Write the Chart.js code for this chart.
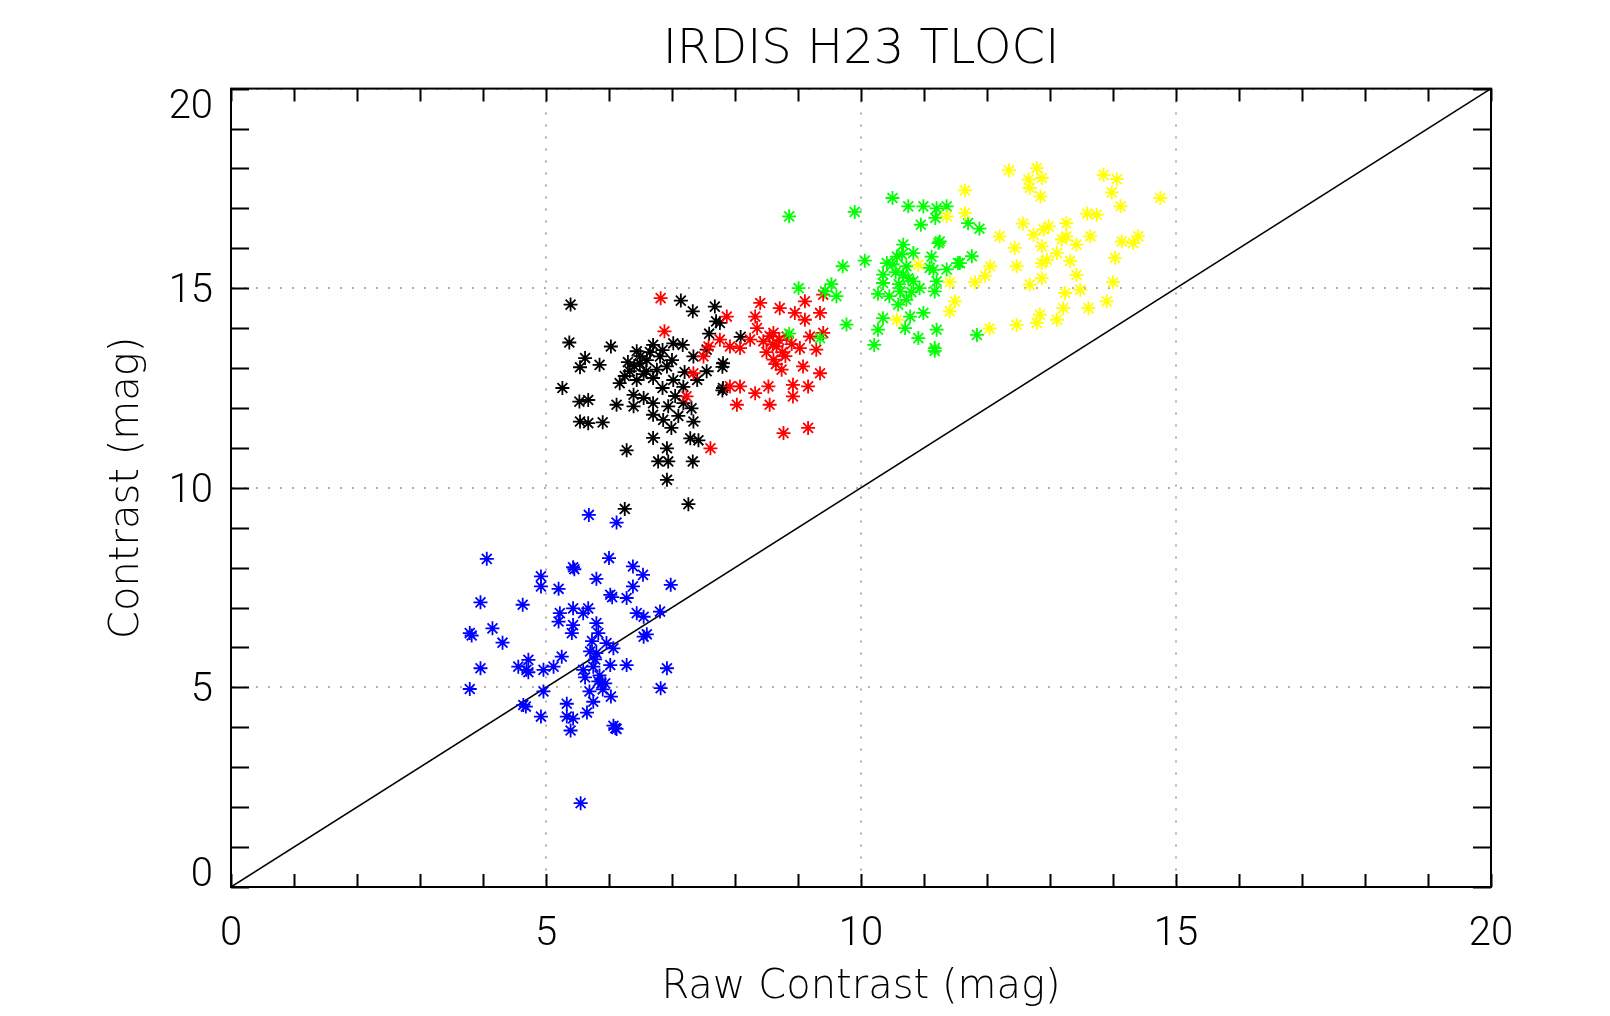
<!DOCTYPE html>
<html>
<head>
<meta charset="utf-8">
<title>IRDIS H23 TLOCI</title>
<script src="https://cdn.jsdelivr.net/npm/chart.js@4.4.1/dist/chart.umd.min.js"></script>
<style>
  html, body { margin: 0; padding: 0; background: #fff; }
  #wrap { width: 1610px; height: 1016px; }
</style>
</head>
<body>
<div id="wrap"><canvas id="chart"></canvas></div>
<script>
// values, one x/y list per colour
const blueX = [5.68, 6.12, 4.06, 5.43, 5.45, 6.00, 6.38, 6.54, 4.92, 4.92, 5.80, 5.20, 6.98, 6.38, 6.02, 6.05, 6.28, 3.96, 4.63, 5.22,
  5.43, 5.67, 5.59, 5.80, 5.43, 5.20, 6.44, 6.55, 6.81, 6.55, 6.60, 3.79, 3.82, 4.15, 4.31, 5.41, 5.83, 5.73, 5.96, 6.07,
  5.25, 5.80, 4.72, 4.56, 4.69, 4.72, 4.96, 5.12, 5.59, 5.75, 6.02, 6.28, 6.92, 3.96, 5.83, 5.88, 5.94, 3.79, 4.96, 5.69,
  6.03, 6.82, 5.75, 4.64, 4.68, 5.33, 5.65, 4.92, 5.33, 5.43, 5.39, 6.07, 6.10, 6.12, 5.55, 5.70, 5.78, 5.85, 5.62, 5.90];
const blueY = [9.32, 9.13, 8.22, 8.01, 7.96, 8.24, 8.03, 7.82, 7.78, 7.53, 7.72, 7.47, 7.57, 7.53, 7.32, 7.26, 7.24, 7.13, 7.07, 6.86,
  6.98, 6.98, 6.86, 6.61, 6.56, 6.65, 6.86, 6.77, 6.90, 6.27, 6.33, 6.36, 6.30, 6.48, 6.12, 6.36, 6.36, 6.16, 6.11, 5.98,
  5.77, 5.86, 5.69, 5.52, 5.44, 5.38, 5.44, 5.52, 5.44, 5.52, 5.56, 5.56, 5.48, 5.48, 5.15, 5.10, 5.10, 4.96, 4.90, 4.90,
  4.77, 4.98, 4.64, 4.56, 4.52, 4.59, 4.37, 4.27, 4.27, 4.22, 3.92, 4.04, 3.98, 3.96, 2.10, 5.90, 5.70, 5.30, 5.25, 4.95];

const blackX = [5.39, 7.14, 7.33, 7.68, 7.76, 7.70, 7.59, 5.37, 6.03, 5.62, 5.85, 5.54, 5.26, 5.53, 5.67, 5.54, 5.67, 5.90, 6.28, 6.92,
  6.70, 7.02, 7.17, 6.44, 6.81, 6.49, 6.33, 6.59, 6.76, 6.92, 7.34, 7.55, 7.81, 7.80, 7.55, 6.17, 6.44, 6.70, 7.02, 7.18,
  7.81, 7.80, 6.39, 6.55, 6.12, 6.39, 6.70, 6.94, 7.18, 7.31, 6.70, 6.86, 7.10, 7.34, 6.99, 6.70, 7.29, 7.42, 6.92, 6.78,
  6.94, 7.33, 6.25, 7.26, 8.09, 6.50, 6.60, 6.40, 6.65, 6.55, 6.30, 6.85, 7.00, 6.25, 6.85, 7.20, 7.40, 7.05];
const blackY = [14.59, 14.69, 14.42, 14.54, 14.13, 14.17, 13.86, 13.64, 13.54, 13.25, 13.08, 13.02, 12.50, 12.16, 12.20, 11.66, 11.62, 11.64, 10.94, 10.20,
  13.58, 13.62, 13.58, 13.42, 13.29, 13.12, 12.92, 12.92, 12.96, 13.04, 13.29, 13.46, 13.12, 13.03, 12.92, 12.62, 12.70, 12.75, 12.70, 12.53,
  12.50, 12.44, 12.33, 12.25, 12.08, 12.04, 12.12, 12.04, 12.12, 11.99, 11.83, 11.70, 11.80, 11.66, 11.50, 11.25, 11.24, 11.19, 10.99, 10.66,
  10.66, 10.66, 9.47, 9.59, 13.78, 13.30, 13.20, 13.05, 13.40, 12.85, 13.15, 13.45, 13.20, 12.80, 12.50, 12.90, 12.70, 12.30];

const redX = [6.82, 6.88, 7.87, 8.40, 8.71, 9.11, 8.95, 9.35, 9.11, 8.32, 8.35, 8.61, 8.82, 8.66, 8.45, 8.24, 8.08, 9.19, 9.40, 9.03,
  9.29, 8.61, 8.74, 9.08, 9.35, 7.92, 7.58, 7.50, 7.76, 7.34, 7.23, 8.08, 8.32, 8.53, 8.92, 9.16, 8.03, 8.55, 8.92, 8.77,
  9.16, 7.92, 7.61, 9.40, 8.70, 8.75, 8.60, 8.80, 8.55, 8.65, 8.90, 8.50];
const redY = [14.75, 13.92, 14.29, 14.63, 14.50, 14.67, 14.38, 14.38, 14.21, 14.29, 14.00, 13.88, 13.79, 13.54, 13.67, 13.71, 13.50, 13.79, 13.88, 13.50,
  13.46, 13.21, 12.96, 13.04, 12.87, 13.54, 13.54, 13.29, 13.71, 12.87, 12.29, 12.54, 12.37, 12.54, 12.58, 12.54, 12.08, 12.08, 12.29, 11.37,
  11.50, 12.54, 10.99, 14.84, 13.70, 13.40, 13.60, 13.30, 13.80, 13.10, 13.60, 13.40];

const greenX = [8.86, 9.90, 10.50, 10.75, 10.99, 11.20, 11.36, 11.18, 10.95, 11.70, 11.88, 11.23, 11.25, 10.67, 10.83, 10.57, 11.12, 11.76, 11.54, 11.57,
  10.41, 10.06, 9.71, 10.72, 11.09, 11.36, 11.15, 10.35, 10.67, 10.35, 10.83, 11.20, 9.53, 9.43, 9.61, 9.01, 10.27, 10.62, 10.93, 11.17,
  10.72, 9.77, 10.35, 10.78, 10.99, 10.59, 10.27, 10.70, 10.91, 11.20, 10.21, 11.17, 11.17, 11.84, 8.86, 9.35, 10.55, 10.60, 10.45, 10.80,
  10.50, 10.65, 10.75];
const greenY = [16.80, 16.91, 17.26, 17.05, 17.05, 17.00, 17.05, 16.76, 16.59, 16.63, 16.49, 16.13, 16.17, 16.09, 15.88, 15.79, 15.79, 15.80, 15.63, 15.63,
  15.63, 15.69, 15.55, 15.55, 15.51, 15.47, 15.46, 15.34, 15.34, 15.13, 15.17, 15.17, 15.10, 14.92, 14.80, 15.00, 14.86, 14.92, 15.00, 14.92,
  14.71, 14.09, 14.25, 14.29, 14.38, 14.59, 13.96, 14.00, 13.75, 13.96, 13.58, 13.50, 13.43, 13.83, 13.86, 13.75, 15.40, 15.10, 14.80, 14.90,
  15.60, 15.85, 15.25];

const yellowX = [12.35, 12.79, 12.66, 12.87, 12.68, 12.85, 11.65, 13.85, 14.06, 13.98, 14.12, 14.75, 13.74, 13.59, 11.65, 11.36, 12.57, 12.20, 12.74, 12.90,
  12.98, 13.26, 13.26, 13.19, 13.42, 13.64, 12.87, 12.44, 13.11, 12.95, 13.32, 12.87, 12.47, 12.05, 11.97, 13.42, 14.03, 14.14, 14.32, 14.40,
  11.81, 11.41, 12.68, 12.87, 14.00, 13.24, 13.48, 11.49, 11.41, 13.61, 13.90, 13.21, 12.84, 12.79, 13.11, 12.47, 12.04, 10.91, 10.57];
const yellowY = [17.95, 18.01, 17.72, 17.76, 17.51, 17.30, 17.45, 17.84, 17.73, 17.40, 17.05, 17.26, 16.84, 16.87, 16.88, 16.80, 16.62, 16.30, 16.34, 16.47,
  16.55, 16.63, 16.30, 16.22, 16.09, 16.30, 16.05, 16.01, 15.88, 15.71, 15.68, 15.63, 15.55, 15.55, 15.31, 15.33, 15.76, 16.17, 16.13, 16.30,
  15.15, 15.15, 15.09, 15.25, 15.15, 14.88, 14.96, 14.67, 14.42, 14.50, 14.67, 14.50, 14.34, 14.13, 14.21, 14.08, 13.99, 15.59, 14.21];

// one-to-one reference line
const lineX = [0, 20];
const lineY = [0, 20];

const xTickLabels = ['0', '5', '10', '15', '20'];
const yTickLabels = ['0', '5', '10', '15', '20'];

const pts = (xs, ys) => xs.map((x, i) => ({ x: x, y: ys[i] }));

const TICK_FONT = 'Roboto';
const TEXT_FONT = '"DejaVu Sans", sans-serif';

function starSet(label, xs, ys, color, order) {
  return {
    label: label,
    data: pts(xs, ys),
    pointStyle: 'star',
    pointRadius: 7,
    pointBorderWidth: 1.8,
    borderColor: color,
    backgroundColor: color,
    showLine: false,
    order: order
  };
}

// inward minor ticks on all four sides plus the black frame
const frameTicks = {
  id: 'frameTicks',
  afterDatasetsDraw(chart) {
    const { ctx, chartArea: a, scales } = chart;
    const sx = scales.x, sy = scales.y;
    ctx.save();
    ctx.strokeStyle = '#000';
    ctx.lineWidth = 2;
    ctx.beginPath();
    for (let v = Math.ceil(sx.min); v <= sx.max; v++) {
      const px = Math.round(sx.getPixelForValue(v)) + 0.5;
      ctx.moveTo(px, a.bottom); ctx.lineTo(px, a.bottom - 13);
      ctx.moveTo(px, a.top); ctx.lineTo(px, a.top + 13);
    }
    for (let v = Math.ceil(sy.min); v <= sy.max; v++) {
      const py = Math.round(sy.getPixelForValue(v)) + 0.5;
      ctx.moveTo(a.left, py); ctx.lineTo(a.left + 18, py);
      ctx.moveTo(a.right, py); ctx.lineTo(a.right - 18, py);
    }
    ctx.stroke();
    ctx.strokeRect(a.left, a.top, a.right - a.left, a.bottom - a.top);
    ctx.restore();
  }
};

const ctx = document.getElementById('chart').getContext('2d');
const chart = new Chart(ctx, {
  type: 'scatter',
  data: {
    datasets: [
      {
        label: 'one-to-one',
        data: pts(lineX, lineY),
        showLine: true,
        borderColor: '#000',
        borderWidth: 1.5,
        pointRadius: 0,
        order: 6
      },
      starSet('blue', blueX, blueY, '#0000ff', 5),
      starSet('black', blackX, blackY, '#000000', 4),
      starSet('red', redX, redY, '#ff0000', 3),
      starSet('green', greenX, greenY, '#00ff00', 2),
      starSet('yellow', yellowX, yellowY, '#ffff00', 1)
    ]
  },
  options: {
    responsive: true,
    maintainAspectRatio: false,
    animation: false,
    layout: { padding: { left: 0, right: 119, top: 0, bottom: 0 } },
    plugins: {
      legend: { display: false },
      tooltip: { enabled: false },
      title: {
        display: true,
        fullSize: false,
        text: 'IRDIS H23 TLOCI',
        color: '#000',
        font: { family: TEXT_FONT, size: 48, weight: '200', lineHeight: 1.2 },
        padding: { top: 22, bottom: 9 }
      }
    },
    scales: {
      x: {
        type: 'linear',
        min: 0, max: 20,
        afterFit(s) { s.height = 129; s.paddingLeft = 0; s.paddingRight = 0; },
        ticks: {
          stepSize: 5,
          color: '#000',
          padding: 33,
          maxRotation: 0,
          font: { family: TICK_FONT, size: 40, weight: '300', lineHeight: 0.75 },
          callback: (v) => xTickLabels[xTickLabels.indexOf(String(v))] ?? ''
        },
        grid: {
          color: '#b0b0b0',
          lineWidth: 2,
          drawTicks: false
        },
        border: { display: true, color: '#000', width: 2, dash: [2, 10] },
        title: {
          display: true,
          text: 'Raw Contrast (mag)',
          color: '#000',
          font: { family: TEXT_FONT, size: 40, weight: '200', lineHeight: 1.2 },
          padding: { top: 0, bottom: 4 }
        }
      },
      y: {
        type: 'linear',
        min: 0, max: 20,
        afterFit(s) { s.width = 231; s.paddingTop = 0; s.paddingBottom = 0; },
        ticks: {
          stepSize: 5,
          color: '#000',
          padding: 18,
          labelOffset: 4,
          font: { family: TICK_FONT, size: 40, weight: '300', lineHeight: 0.75 },
          callback: (v) => {
            const lab = yTickLabels[yTickLabels.indexOf(String(v))] ?? '';
            if (v === 20) return ['', lab];
            if (v === 0) return [lab, ''];
            return lab;
          }
        },
        grid: {
          color: '#b0b0b0',
          lineWidth: 2,
          drawTicks: false
        },
        border: { display: true, color: '#000', width: 2, dash: [2, 10] },
        title: {
          display: true,
          text: 'Contrast (mag)',
          color: '#000',
          font: { family: TEXT_FONT, size: 40, weight: '200', lineHeight: 1.2 },
          padding: { top: 104, bottom: 0 }
        }
      }
    }
  },
  plugins: [frameTicks]
});
</script>
</body>
</html>
